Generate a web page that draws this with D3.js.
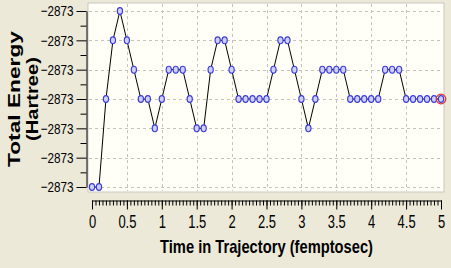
<!DOCTYPE html>
<html><head><meta charset="utf-8">
<script src="https://cdn.jsdelivr.net/npm/d3@7"></script>
<style>
html,body{margin:0;padding:0;background:#ece9d8;}
svg{display:block;}
</style></head>
<body>
<svg id="c" width="451" height="268"></svg>
<script>
// Time in trajectory (femtosec)
const times = [0,0.1,0.2,0.3,0.4,0.5,0.6,0.7,0.8,0.9,1,1.1,1.2,1.3,1.4,1.5,1.6,1.7,1.8,1.9,2,2.1,2.2,2.3,2.4,2.5,2.6,2.7,2.8,2.9,3,3.1,3.2,3.3,3.4,3.5,3.6,3.7,3.8,3.9,4,4.1,4.2,4.3,4.4,4.5,4.6,4.7,4.8,4.9,5];
// Total energy (Hartree)
const energies = [-2873.24,-2873.24,-2873.12,-2873.04,-2873.00,-2873.04,-2873.08,-2873.12,-2873.12,-2873.16,
 -2873.12,-2873.08,-2873.08,-2873.08,-2873.12,-2873.16,-2873.16,-2873.08,-2873.04,-2873.04,
 -2873.08,-2873.12,-2873.12,-2873.12,-2873.12,-2873.12,-2873.08,-2873.04,-2873.04,-2873.08,
 -2873.12,-2873.16,-2873.12,-2873.08,-2873.08,-2873.08,-2873.08,-2873.12,-2873.12,-2873.12,
 -2873.12,-2873.12,-2873.08,-2873.08,-2873.08,-2873.12,-2873.12,-2873.12,-2873.12,-2873.12,-2873.12];
const yTicks = [-2873.24,-2873.20,-2873.16,-2873.12,-2873.08,-2873.04,-2873.00];
const yMinorTicks = [-2873.22,-2873.18,-2873.14,-2873.10,-2873.06,-2873.02];
const xTicks = [0,0.5,1,1.5,2,2.5,3,3.5,4,4.5,5];
const xTickLabels = ["0","0.5","1","1.5","2","2.5","3","3.5","4","4.5","5"];
const xTitle = "Time in Trajectory (femptosec)";
const yTitle = ["Total Energy","(Hartree)"];

const svg = d3.select("#c");
const x = d3.scaleLinear().domain([0,5]).range([92,441]);
const y = d3.scaleLinear().domain([-2873.24,-2873.00]).range([187,11]);
const fmt = d3.format(".0f");
const FONT = "'Liberation Sans',Arial,sans-serif";
function narrow(sel, k){ sel.each(function(){ const w=this.getComputedTextLength(); d3.select(this).attr("textLength",w*k).attr("lengthAdjust","spacingAndGlyphs"); }); }

// plot area
svg.append("rect").attr("x",88).attr("y",3).attr("width",356).attr("height",189)
  .attr("fill","#fffff7").attr("stroke","#c8c8c0").attr("stroke-width",1);

// grid
const grid = svg.append("g").attr("stroke","#c4c4bc").attr("stroke-dasharray","3,3").attr("stroke-width",1);
grid.selectAll("line.h").data(yTicks).join("line").attr("class","h")
  .attr("x1",89).attr("x2",443).attr("y1",d=>Math.round(y(d))+0.5).attr("y2",d=>Math.round(y(d))+0.5);
grid.selectAll("line.v").data(xTicks.slice(1,-1)).join("line").attr("class","v")
  .attr("y1",4).attr("y2",191).attr("x1",d=>Math.round(x(d))+0.5).attr("x2",d=>Math.round(x(d))+0.5);

// y axis
const ya = svg.append("g").attr("transform","translate(86.5,0)")
  .call(d3.axisLeft(y).tickValues(yTicks).tickFormat(fmt).tickSize(10).tickPadding(3).tickSizeOuter(0));
ya.select(".domain").attr("stroke","#000");
ya.selectAll(".tick line").attr("stroke","#000");
ya.selectAll("text").attr("font-family",FONT).attr("font-size",15).attr("fill","#000").call(narrow,0.78);
svg.append("g").attr("transform","translate(86.5,0)")
  .call(d3.axisLeft(y).tickValues(yMinorTicks).tickFormat("").tickSize(6).tickSizeOuter(0))
  .call(g=>g.select(".domain").remove());

// x axis ruler
const xMinor = d3.range(0,101).map(i=>i*0.05);
svg.append("g").attr("transform","translate(0,200.5)")
  .call(d3.axisBottom(x).tickValues(xMinor).tickFormat("").tickSize(5).tickSizeOuter(0))
  .call(g=>g.select(".domain").attr("stroke","#000"));
const xa = svg.append("g").attr("transform","translate(0,200.5)")
  .call(d3.axisBottom(x).tickValues(xTicks).tickFormat((d,i)=>xTickLabels[i]).tickSize(9).tickSizeOuter(0));
xa.select(".domain").remove();
xa.selectAll("text").attr("y",27.5).attr("dy",null).attr("font-family",FONT).attr("font-size",18).attr("fill","#000").call(narrow,0.72);

// line
svg.append("path").datum(times.map((t,i)=>[t,energies[i]]))
  .attr("fill","none").attr("stroke","#000").attr("stroke-width",1)
  .attr("d",d3.line().x(d=>x(d[0])).y(d=>y(d[1])));

// markers
svg.selectAll("ellipse.m").data(times.map((t,i)=>[t,energies[i]])).join("ellipse").attr("class","m")
  .attr("cx",d=>x(d[0])).attr("cy",d=>y(d[1])).attr("rx",2.6).attr("ry",3.4)
  .attr("fill","#d0d0ff").attr("stroke","#3c3cd8").attr("stroke-width",1.2);
// highlighted last point
svg.append("circle").attr("cx",x(times[times.length-1])).attr("cy",y(energies[energies.length-1]))
  .attr("r",4.8).attr("fill","none").attr("stroke","#e03030").attr("stroke-width",1.2);

// titles
svg.append("text").attr("x",(92+441)/2 + 0).attr("y",253).attr("text-anchor","middle")
  .attr("font-family",FONT).attr("font-size",19).attr("font-weight","bold")
  .attr("fill","#000").text(xTitle).attr("textLength",213).attr("lengthAdjust","spacingAndGlyphs");
const yt = svg.append("text").attr("transform","translate(0,99) rotate(-90)").attr("text-anchor","middle")
  .attr("font-family",FONT).attr("font-size",17).attr("font-weight","bold").attr("fill","#000");
yt.append("tspan").attr("x",0).attr("y",20).text(yTitle[0]).attr("textLength",136).attr("lengthAdjust","spacingAndGlyphs");
yt.append("tspan").attr("x",0).attr("y",38).text(yTitle[1]).attr("textLength",84).attr("lengthAdjust","spacingAndGlyphs");
</script>
</body></html>
